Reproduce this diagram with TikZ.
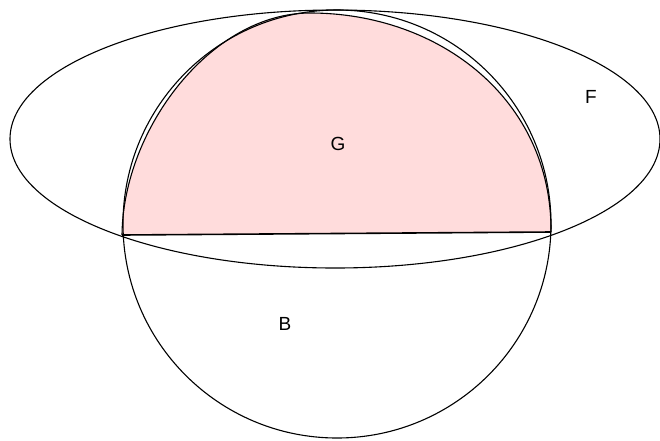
\documentclass[tikz,border=0pt]{standalone}
\usepackage{fontspec}
\setmainfont{Liberation Sans}
\definecolor{gpink}{RGB}{255,220,220}
\tikzset{
  outline/.style={draw=black, line width=1.1pt},
  lbl/.style={font=\fontsize{19}{19}\selectfont, inner sep=0pt}
}
\begin{document}
\begin{tikzpicture}[x=1pt,y=-1pt]
\useasboundingbox (0,0) rectangle (660,440);
% pink region G
\coordinate (gl) at (122,235);
\coordinate (gt) at (310,13);
\coordinate (gr) at (551,232);
\fill[gpink] (gl) .. controls (123,128) and (212,13) .. (gt)
  .. controls (440,13) and (552,100) .. (gr) -- cycle;
\draw[outline] (gl) .. controls (123,128) and (212,13) .. (gt)
  .. controls (440,13) and (552,100) .. (gr);
\draw[black, line width=1.6pt] (gl) -- (gr);
% ellipse F
\draw[outline] (335,139) ellipse [x radius=325, y radius=129];
% circle B
\draw[outline] (337,224) circle [radius=214];
% labels
\node[lbl] (G) at (338,144) {G};
\node[lbl] (F) at (591,97) {F};
\node[lbl] (B) at (285,324) {B};
\end{tikzpicture}
\end{document}
